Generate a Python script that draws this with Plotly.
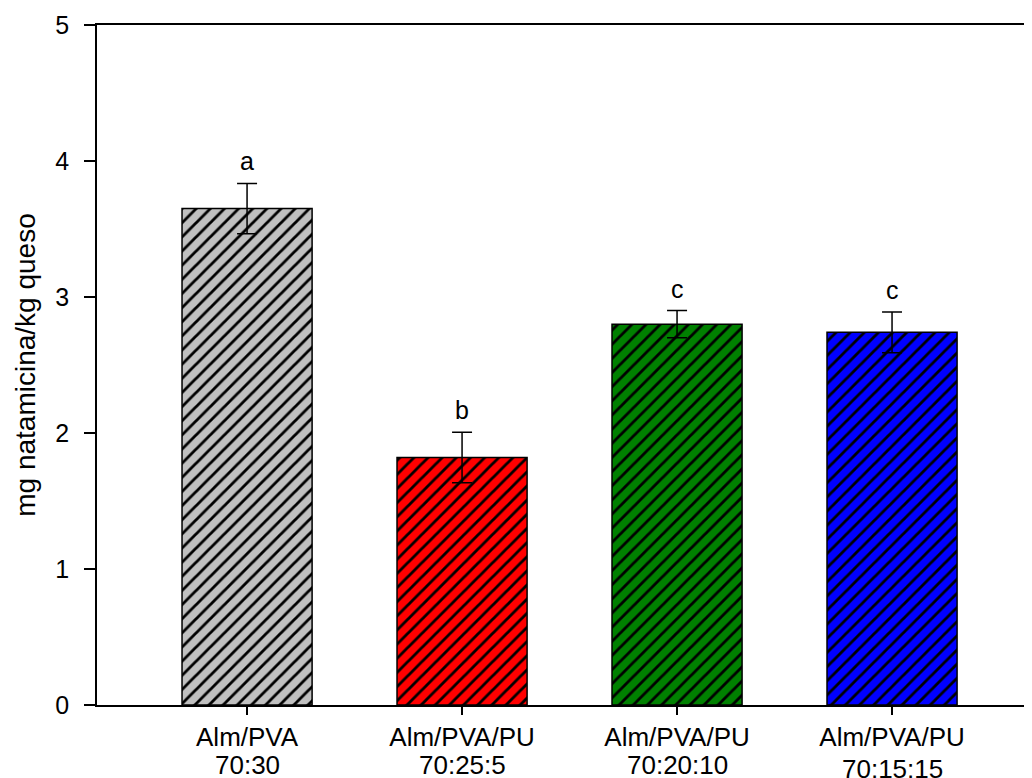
import plotly.graph_objects as go

cat_names = ["Alm/PVA", "Alm/PVA/PU", "Alm/PVA/PU", "Alm/PVA/PU"]
cat_ratios = ["70:30", "70:25:5", "70:20:10", "70:15:15"]
values = [3.65, 1.82, 2.80, 2.74]
errors = [0.185, 0.185, 0.10, 0.15]
letters = ["a", "b", "c", "c"]
colors = ["#c0c0c0", "#ff0000", "#008000", "#0000ff"]

x_idx = list(range(len(cat_names)))
FONT = "Liberation Sans, Arial"

fig = go.Figure()
for xi, v, e, c in zip(x_idx, values, errors, colors):
    fig.add_trace(go.Bar(
        x=[xi], y=[v], width=0.605,
        marker=dict(color=c, line=dict(color="black", width=1.5),
                    pattern=dict(shape="/", fgcolor="black", bgcolor=c, size=10, solidity=0.28,
                                 fillmode="replace")),
        error_y=dict(type="data", array=[e], visible=True, color="black", thickness=1.5, width=10),
        showlegend=False,
    ))

for xi, v, e, t in zip(x_idx, values, errors, letters):
    fig.add_annotation(x=xi, y=v + e, text=t, showarrow=False, yanchor="bottom", yshift=6,
                       font=dict(size=25, color="black", family=FONT))

# second line of category labels
for xi, r in zip(x_idx, cat_ratios):
    fig.add_annotation(x=xi, xref="x", y=0, yref="paper", text=r, showarrow=False,
                       yanchor="middle", yshift=-60 if xi < 3 else -64,
                       font=dict(size=26, color="black", family=FONT))

fig.update_layout(
    width=1032, height=770,
    margin=dict(l=89, r=8, t=17, b=73),
    plot_bgcolor="white", paper_bgcolor="white",
    font=dict(family=FONT, size=25, color="black"),
    barmode="overlay",
)
fig.update_xaxes(
    range=[-0.698, 3.651], tickmode="array", tickvals=x_idx, ticktext=cat_names,
    showline=True, linecolor="black", linewidth=1.5, mirror=True,
    ticks="outside", ticklen=8, tickwidth=1.5, tickcolor="black",
    showgrid=False, zeroline=False, tickfont=dict(size=26), automargin=False,
    ticklabelstandoff=0,
)
fig.update_yaxes(
    range=[0, 5], tickvals=[0, 1, 2, 3, 4, 5],
    showline=True, linecolor="black", linewidth=1.5, mirror=False,
    ticks="outside", ticklen=11, tickwidth=1.5, tickcolor="black",
    showgrid=False, zeroline=False, tickfont=dict(size=25), automargin=False,
    ticklabelstandoff=10,
    title=dict(text="mg natamicina/kg queso", font=dict(size=28), standoff=12),
)

fig.write_html("out.html")
